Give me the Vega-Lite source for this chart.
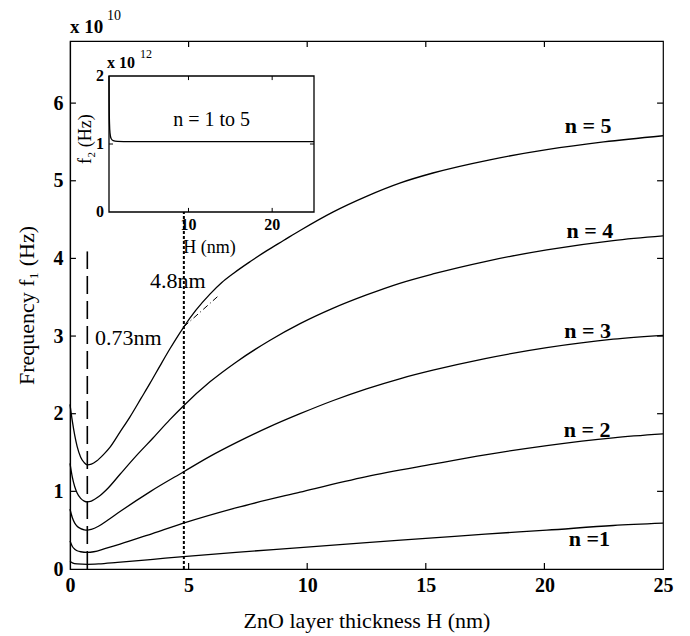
{
  "$schema": "https://vega.github.io/schema/vega-lite/v6.json",
  "width": 593,
  "height": 528,
  "autosize": "none",
  "padding": {"left": 70, "top": 41, "right": 27, "bottom": 67},
  "background": "white",
  "config": {
    "view": {"stroke": "black", "strokeWidth": 1.2},
    "font": "Liberation Serif",
    "axis": {
      "grid": false,
      "ticks": false,
      "domainColor": "black",
      "domainWidth": 1.2,
      "labelFont": "Liberation Serif",
      "labelFontSize": 20,
      "labelFontWeight": "bold",
      "labelColor": "black",
      "titleFont": "Liberation Serif",
      "titleFontSize": 22,
      "titleFontWeight": "normal",
      "titleColor": "black"
    }
  },
  "datasets": {
    "curves": [
      {"n": 5, "x": 0, "y": 2.12}, {"n": 5, "x": 0.1, "y": 1.9}, {"n": 5, "x": 0.2, "y": 1.72}, {"n": 5, "x": 0.3, "y": 1.58}, {"n": 5, "x": 0.45, "y": 1.44}, {"n": 5, "x": 0.6, "y": 1.37}, {"n": 5, "x": 0.73, "y": 1.34}, {"n": 5, "x": 0.9, "y": 1.35}, {"n": 5, "x": 1.12, "y": 1.39}, {"n": 5, "x": 1.4, "y": 1.47}, {"n": 5, "x": 1.69, "y": 1.57}, {"n": 5, "x": 2.1, "y": 1.76}, {"n": 5, "x": 2.53, "y": 1.96}, {"n": 5, "x": 3.0, "y": 2.2}, {"n": 5, "x": 3.37, "y": 2.39}, {"n": 5, "x": 3.8, "y": 2.62}, {"n": 5, "x": 4.22, "y": 2.84}, {"n": 5, "x": 4.78, "y": 3.11}, {"n": 5, "x": 5.3, "y": 3.33}, {"n": 5, "x": 5.9, "y": 3.54}, {"n": 5, "x": 6.4, "y": 3.69}, {"n": 5, "x": 6.9, "y": 3.81}, {"n": 5, "x": 7.6, "y": 3.96}, {"n": 5, "x": 8.3, "y": 4.1}, {"n": 5, "x": 9.0, "y": 4.23}, {"n": 5, "x": 9.7, "y": 4.36}, {"n": 5, "x": 11.1, "y": 4.6}, {"n": 5, "x": 12.5, "y": 4.8}, {"n": 5, "x": 13.9, "y": 4.97}, {"n": 5, "x": 15.3, "y": 5.1}, {"n": 5, "x": 17.7, "y": 5.27}, {"n": 5, "x": 20.1, "y": 5.4}, {"n": 5, "x": 22.5, "y": 5.5}, {"n": 5, "x": 25, "y": 5.58},
      {"n": 4, "x": 0, "y": 1.36}, {"n": 4, "x": 0.1, "y": 1.18}, {"n": 4, "x": 0.2, "y": 1.06}, {"n": 4, "x": 0.3, "y": 0.98}, {"n": 4, "x": 0.45, "y": 0.91}, {"n": 4, "x": 0.6, "y": 0.875}, {"n": 4, "x": 0.73, "y": 0.865}, {"n": 4, "x": 0.9, "y": 0.875}, {"n": 4, "x": 1.2, "y": 0.93}, {"n": 4, "x": 1.6, "y": 1.04}, {"n": 4, "x": 2.11, "y": 1.22}, {"n": 4, "x": 2.8, "y": 1.46}, {"n": 4, "x": 3.51, "y": 1.69}, {"n": 4, "x": 4.2, "y": 1.92}, {"n": 4, "x": 4.78, "y": 2.1}, {"n": 4, "x": 5.9, "y": 2.41}, {"n": 4, "x": 7.03, "y": 2.67}, {"n": 4, "x": 8.4, "y": 2.94}, {"n": 4, "x": 9.7, "y": 3.16}, {"n": 4, "x": 11.1, "y": 3.36}, {"n": 4, "x": 12.5, "y": 3.53}, {"n": 4, "x": 13.9, "y": 3.68}, {"n": 4, "x": 15.3, "y": 3.8}, {"n": 4, "x": 17.5, "y": 3.96}, {"n": 4, "x": 20.1, "y": 4.11}, {"n": 4, "x": 22.9, "y": 4.23}, {"n": 4, "x": 25, "y": 4.29},
      {"n": 3, "x": 0, "y": 0.77}, {"n": 3, "x": 0.1, "y": 0.66}, {"n": 3, "x": 0.2, "y": 0.59}, {"n": 3, "x": 0.3, "y": 0.55}, {"n": 3, "x": 0.45, "y": 0.52}, {"n": 3, "x": 0.6, "y": 0.505}, {"n": 3, "x": 0.73, "y": 0.5}, {"n": 3, "x": 0.9, "y": 0.51}, {"n": 3, "x": 1.2, "y": 0.55}, {"n": 3, "x": 1.6, "y": 0.63}, {"n": 3, "x": 2.11, "y": 0.74}, {"n": 3, "x": 3.4, "y": 1.0}, {"n": 3, "x": 4.78, "y": 1.25}, {"n": 3, "x": 5.9, "y": 1.45}, {"n": 3, "x": 7.03, "y": 1.63}, {"n": 3, "x": 8.4, "y": 1.83}, {"n": 3, "x": 9.7, "y": 2.0}, {"n": 3, "x": 11.1, "y": 2.17}, {"n": 3, "x": 12.5, "y": 2.32}, {"n": 3, "x": 13.9, "y": 2.45}, {"n": 3, "x": 15.3, "y": 2.56}, {"n": 3, "x": 17.5, "y": 2.71}, {"n": 3, "x": 20.1, "y": 2.85}, {"n": 3, "x": 22.9, "y": 2.96}, {"n": 3, "x": 25, "y": 3.01},
      {"n": 2, "x": 0, "y": 0.36}, {"n": 2, "x": 0.1, "y": 0.29}, {"n": 2, "x": 0.2, "y": 0.255}, {"n": 2, "x": 0.3, "y": 0.235}, {"n": 2, "x": 0.45, "y": 0.222}, {"n": 2, "x": 0.73, "y": 0.215}, {"n": 2, "x": 1.0, "y": 0.222}, {"n": 2, "x": 1.5, "y": 0.265}, {"n": 2, "x": 2.11, "y": 0.32}, {"n": 2, "x": 3.5, "y": 0.46}, {"n": 2, "x": 4.78, "y": 0.59}, {"n": 2, "x": 7.03, "y": 0.79}, {"n": 2, "x": 9.7, "y": 0.99}, {"n": 2, "x": 12.5, "y": 1.19}, {"n": 2, "x": 15.3, "y": 1.35}, {"n": 2, "x": 17.5, "y": 1.47}, {"n": 2, "x": 20.1, "y": 1.59}, {"n": 2, "x": 22.9, "y": 1.69}, {"n": 2, "x": 25, "y": 1.74},
      {"n": 1, "x": 0, "y": 0.1}, {"n": 1, "x": 0.1, "y": 0.08}, {"n": 1, "x": 0.3, "y": 0.066}, {"n": 1, "x": 0.73, "y": 0.06}, {"n": 1, "x": 1.2, "y": 0.065}, {"n": 1, "x": 2.0, "y": 0.085}, {"n": 1, "x": 3.5, "y": 0.125}, {"n": 1, "x": 4.78, "y": 0.16}, {"n": 1, "x": 7.0, "y": 0.215}, {"n": 1, "x": 9.7, "y": 0.275}, {"n": 1, "x": 12.5, "y": 0.34}, {"n": 1, "x": 15.3, "y": 0.4}, {"n": 1, "x": 17.5, "y": 0.45}, {"n": 1, "x": 20.1, "y": 0.5}, {"n": 1, "x": 22.9, "y": 0.56}, {"n": 1, "x": 25, "y": 0.59}
    ],
    "mainTicks": [
      {"x": 5, "x2": 5, "y": 0, "y2": 0.077}, {"x": 10, "x2": 10, "y": 0, "y2": 0.077}, {"x": 15, "x2": 15, "y": 0, "y2": 0.077}, {"x": 20, "x2": 20, "y": 0, "y2": 0.077},
      {"x": 5, "x2": 5, "y": 6.8, "y2": 6.723}, {"x": 10, "x2": 10, "y": 6.8, "y2": 6.723}, {"x": 15, "x2": 15, "y": 6.8, "y2": 6.723}, {"x": 20, "x2": 20, "y": 6.8, "y2": 6.723},
      {"x": 0, "x2": 0.25, "y": 1, "y2": 1}, {"x": 0, "x2": 0.25, "y": 2, "y2": 2}, {"x": 0, "x2": 0.25, "y": 3, "y2": 3}, {"x": 0, "x2": 0.25, "y": 4, "y2": 4}, {"x": 0, "x2": 0.25, "y": 5, "y2": 5}, {"x": 0, "x2": 0.25, "y": 6, "y2": 6},
      {"x": 25, "x2": 24.75, "y": 1, "y2": 1}, {"x": 25, "x2": 24.75, "y": 2, "y2": 2}, {"x": 25, "x2": 24.75, "y": 3, "y2": 3}, {"x": 25, "x2": 24.75, "y": 4, "y2": 4}, {"x": 25, "x2": 24.75, "y": 5, "y2": 5}, {"x": 25, "x2": 24.75, "y": 6, "y2": 6}
    ],
    "dashedLine": [{"x": 0.73, "y": 0, "y2": 4.09}],
    "dottedLine": [{"x": 4.8, "y": 0, "y2": 4.6}],
    "tangent": [{"x": 4.8, "y": 3.12}, {"x": 6.3, "y": 3.53}],
    "nLabels": [
      {"label": "n = 5", "x": 21.84, "y": 5.62},
      {"label": "n = 4", "x": 21.92, "y": 4.26},
      {"label": "n = 3", "x": 21.82, "y": 2.97},
      {"label": "n = 2", "x": 21.8, "y": 1.7},
      {"label": "n =1", "x": 21.9, "y": 0.29}
    ],
    "annots": [
      {"label": "0.73nm", "x": 1.05, "y": 2.885},
      {"label": "4.8nm", "x": 3.37, "y": 3.62}
    ],
    "mainExp": [{"label": "x 10", "x": 0, "y": 6.9}],
    "mainExpSup": [{"label": "10", "x": 1.56, "y": 7.07}],
    "insetBox": [{"x": 0.5, "x2": 25, "y": 0, "y2": 2}],
    "insetCurve": [
      {"x": 0.5, "y": 2.0}, {"x": 0.52, "y": 1.6}, {"x": 0.56, "y": 1.3}, {"x": 0.62, "y": 1.16}, {"x": 0.75, "y": 1.08}, {"x": 1.0, "y": 1.05}, {"x": 1.5, "y": 1.04}, {"x": 3, "y": 1.035}, {"x": 10, "y": 1.035}, {"x": 25, "y": 1.035}
    ],
    "insetTicks": [
      {"x": 10, "x2": 10, "y": 0, "y2": 0.06}, {"x": 20, "x2": 20, "y": 0, "y2": 0.06},
      {"x": 10, "x2": 10, "y": 2, "y2": 1.94}, {"x": 20, "x2": 20, "y": 2, "y2": 1.94},
      {"x": 0.5, "x2": 0.98, "y": 1, "y2": 1}, {"x": 25, "x2": 24.52, "y": 1, "y2": 1}
    ],
    "insetYLabels": [{"label": "0", "x": 0.5, "y": 0}, {"label": "1", "x": 0.5, "y": 1}, {"label": "2", "x": 0.5, "y": 2}],
    "insetXLabels": [{"label": "10", "x": 10, "y": 0}, {"label": "20", "x": 20, "y": 0}],
    "insetNote": [{"label": "n = 1 to 5", "x": 12.76, "y": 1.35}],
    "insetExp": [{"label": "x 10", "x": 0.26, "y": 2.12}],
    "insetExpSup": [{"label": "12", "x": 4.19, "y": 2.26}],
    "insetXTitle": [{"label": "H (nm)", "x": 12.5, "y": -0.53}],
    "insetYTitle": [{"label": "f₂ (Hz)", "x": -2.24, "y": 1.07}]
  },
  "layer": [
    {
      "layer": [
        {
          "data": {"name": "curves"},
          "mark": {"type": "line", "color": "black", "strokeWidth": 1.3, "interpolate": "monotone"},
          "encoding": {
            "x": {"field": "x", "type": "quantitative", "scale": {"domain": [0, 25], "nice": false, "zero": false},
              "axis": {"values": [0, 5, 10, 15, 20, 25], "format": "d", "title": "ZnO layer thickness H (nm)", "labelPadding": 6, "titlePadding": 15, "labelFlush": false}},
            "y": {"field": "y", "type": "quantitative", "scale": {"domain": [0, 6.8], "nice": false, "zero": false},
              "axis": {"values": [0, 1, 2, 3, 4, 5, 6], "format": "d", "title": "Frequency f₁ (Hz)", "labelPadding": 7, "titlePadding": 15, "labelFlush": false}},
            "detail": {"field": "n", "type": "nominal"}
          }
        },
        {
          "data": {"name": "mainTicks"},
          "mark": {"type": "rule", "color": "black", "strokeWidth": 1.2},
          "encoding": {
            "x": {"field": "x", "type": "quantitative", "scale": {"domain": [0, 25], "nice": false, "zero": false}},
            "x2": {"field": "x2"},
            "y": {"field": "y", "type": "quantitative", "scale": {"domain": [0, 6.8], "nice": false, "zero": false}},
            "y2": {"field": "y2"}
          }
        },
        {
          "data": {"name": "dashedLine"},
          "mark": {"type": "rule", "color": "black", "strokeWidth": 1.6, "strokeDash": [18, 7]},
          "encoding": {
            "x": {"field": "x", "type": "quantitative", "scale": {"domain": [0, 25], "nice": false, "zero": false}},
            "y": {"field": "y", "type": "quantitative", "scale": {"domain": [0, 6.8], "nice": false, "zero": false}},
            "y2": {"field": "y2"}
          }
        },
        {
          "data": {"name": "dottedLine"},
          "mark": {"type": "rule", "color": "black", "strokeWidth": 2, "strokeDash": [3, 2]},
          "encoding": {
            "x": {"field": "x", "type": "quantitative", "scale": {"domain": [0, 25], "nice": false, "zero": false}},
            "y": {"field": "y", "type": "quantitative", "scale": {"domain": [0, 6.8], "nice": false, "zero": false}},
            "y2": {"field": "y2"}
          }
        },
        {
          "data": {"name": "tangent"},
          "mark": {"type": "line", "color": "black", "strokeWidth": 1, "strokeDash": [6, 3, 1, 3]},
          "encoding": {
            "x": {"field": "x", "type": "quantitative", "scale": {"domain": [0, 25], "nice": false, "zero": false}},
            "y": {"field": "y", "type": "quantitative", "scale": {"domain": [0, 6.8], "nice": false, "zero": false}}
          }
        },
        {
          "data": {"name": "nLabels"},
          "mark": {"type": "text", "font": "Liberation Serif", "fontSize": 22, "fontWeight": "bold", "align": "center", "baseline": "alphabetic", "color": "black"},
          "encoding": {
            "x": {"field": "x", "type": "quantitative", "scale": {"domain": [0, 25], "nice": false, "zero": false}},
            "y": {"field": "y", "type": "quantitative", "scale": {"domain": [0, 6.8], "nice": false, "zero": false}},
            "text": {"field": "label"}
          }
        },
        {
          "data": {"name": "annots"},
          "mark": {"type": "text", "font": "Liberation Serif", "fontSize": 22, "align": "left", "baseline": "alphabetic", "color": "black"},
          "encoding": {
            "x": {"field": "x", "type": "quantitative", "scale": {"domain": [0, 25], "nice": false, "zero": false}},
            "y": {"field": "y", "type": "quantitative", "scale": {"domain": [0, 6.8], "nice": false, "zero": false}},
            "text": {"field": "label"}
          }
        },
        {
          "data": {"name": "mainExp"},
          "mark": {"type": "text", "font": "Liberation Serif", "fontSize": 19, "fontWeight": "bold", "align": "left", "baseline": "alphabetic", "color": "black"},
          "encoding": {
            "x": {"field": "x", "type": "quantitative", "scale": {"domain": [0, 25], "nice": false, "zero": false}},
            "y": {"field": "y", "type": "quantitative", "scale": {"domain": [0, 6.8], "nice": false, "zero": false}},
            "text": {"field": "label"}
          }
        },
        {
          "data": {"name": "mainExpSup"},
          "mark": {"type": "text", "font": "Liberation Serif", "fontSize": 14, "align": "left", "baseline": "alphabetic", "color": "black"},
          "encoding": {
            "x": {"field": "x", "type": "quantitative", "scale": {"domain": [0, 25], "nice": false, "zero": false}},
            "y": {"field": "y", "type": "quantitative", "scale": {"domain": [0, 6.8], "nice": false, "zero": false}},
            "text": {"field": "label"}
          }
        }
      ]
    },
    {
      "layer": [
        {
          "data": {"name": "insetBox"},
          "mark": {"type": "rect", "fill": "white", "stroke": "black", "strokeWidth": 1.3},
          "encoding": {
            "x": {"field": "x", "type": "quantitative", "scale": {"domain": [0.5, 25], "range": [39, 244], "nice": false, "zero": false}, "axis": null},
            "x2": {"field": "x2"},
            "y": {"field": "y", "type": "quantitative", "scale": {"domain": [0, 2], "range": [171, 35], "nice": false, "zero": false}, "axis": null},
            "y2": {"field": "y2"}
          }
        },
        {
          "data": {"name": "insetCurve"},
          "mark": {"type": "line", "color": "black", "strokeWidth": 1.3, "interpolate": "monotone"},
          "encoding": {
            "x": {"field": "x", "type": "quantitative", "scale": {"domain": [0.5, 25], "range": [39, 244], "nice": false, "zero": false}, "axis": null},
            "y": {"field": "y", "type": "quantitative", "scale": {"domain": [0, 2], "range": [171, 35], "nice": false, "zero": false}, "axis": null}
          }
        },
        {
          "data": {"name": "insetTicks"},
          "mark": {"type": "rule", "color": "black", "strokeWidth": 1},
          "encoding": {
            "x": {"field": "x", "type": "quantitative", "scale": {"domain": [0.5, 25], "range": [39, 244], "nice": false, "zero": false}, "axis": null},
            "x2": {"field": "x2"},
            "y": {"field": "y", "type": "quantitative", "scale": {"domain": [0, 2], "range": [171, 35], "nice": false, "zero": false}, "axis": null},
            "y2": {"field": "y2"}
          }
        },
        {
          "data": {"name": "insetYLabels"},
          "mark": {"type": "text", "font": "Liberation Serif", "fontSize": 16, "fontWeight": "bold", "align": "right", "baseline": "middle", "dx": -5, "color": "black"},
          "encoding": {
            "x": {"field": "x", "type": "quantitative", "scale": {"domain": [0.5, 25], "range": [39, 244], "nice": false, "zero": false}, "axis": null},
            "y": {"field": "y", "type": "quantitative", "scale": {"domain": [0, 2], "range": [171, 35], "nice": false, "zero": false}, "axis": null},
            "text": {"field": "label"}
          }
        },
        {
          "data": {"name": "insetXLabels"},
          "mark": {"type": "text", "font": "Liberation Serif", "fontSize": 16, "fontWeight": "bold", "align": "center", "baseline": "top", "dy": 5, "color": "black"},
          "encoding": {
            "x": {"field": "x", "type": "quantitative", "scale": {"domain": [0.5, 25], "range": [39, 244], "nice": false, "zero": false}, "axis": null},
            "y": {"field": "y", "type": "quantitative", "scale": {"domain": [0, 2], "range": [171, 35], "nice": false, "zero": false}, "axis": null},
            "text": {"field": "label"}
          }
        },
        {
          "data": {"name": "insetNote"},
          "mark": {"type": "text", "font": "Liberation Serif", "fontSize": 20, "align": "center", "baseline": "middle", "color": "black"},
          "encoding": {
            "x": {"field": "x", "type": "quantitative", "scale": {"domain": [0.5, 25], "range": [39, 244], "nice": false, "zero": false}, "axis": null},
            "y": {"field": "y", "type": "quantitative", "scale": {"domain": [0, 2], "range": [171, 35], "nice": false, "zero": false}, "axis": null},
            "text": {"field": "label"}
          }
        },
        {
          "data": {"name": "insetExp"},
          "mark": {"type": "text", "font": "Liberation Serif", "fontSize": 16, "fontWeight": "bold", "align": "left", "baseline": "alphabetic", "color": "black"},
          "encoding": {
            "x": {"field": "x", "type": "quantitative", "scale": {"domain": [0.5, 25], "range": [39, 244], "nice": false, "zero": false}, "axis": null},
            "y": {"field": "y", "type": "quantitative", "scale": {"domain": [0, 2], "range": [171, 35], "nice": false, "zero": false}, "axis": null},
            "text": {"field": "label"}
          }
        },
        {
          "data": {"name": "insetExpSup"},
          "mark": {"type": "text", "font": "Liberation Serif", "fontSize": 12, "align": "left", "baseline": "alphabetic", "color": "black"},
          "encoding": {
            "x": {"field": "x", "type": "quantitative", "scale": {"domain": [0.5, 25], "range": [39, 244], "nice": false, "zero": false}, "axis": null},
            "y": {"field": "y", "type": "quantitative", "scale": {"domain": [0, 2], "range": [171, 35], "nice": false, "zero": false}, "axis": null},
            "text": {"field": "label"}
          }
        },
        {
          "data": {"name": "insetXTitle"},
          "mark": {"type": "text", "font": "Liberation Serif", "fontSize": 18, "align": "center", "baseline": "middle", "color": "black"},
          "encoding": {
            "x": {"field": "x", "type": "quantitative", "scale": {"domain": [0.5, 25], "range": [39, 244], "nice": false, "zero": false}, "axis": null},
            "y": {"field": "y", "type": "quantitative", "scale": {"domain": [0, 2], "range": [171, 35], "nice": false, "zero": false}, "axis": null},
            "text": {"field": "label"}
          }
        },
        {
          "data": {"name": "insetYTitle"},
          "mark": {"type": "text", "font": "Liberation Serif", "fontSize": 18, "align": "center", "baseline": "middle", "angle": 270, "color": "black"},
          "encoding": {
            "x": {"field": "x", "type": "quantitative", "scale": {"domain": [0.5, 25], "range": [39, 244], "nice": false, "zero": false}, "axis": null},
            "y": {"field": "y", "type": "quantitative", "scale": {"domain": [0, 2], "range": [171, 35], "nice": false, "zero": false}, "axis": null},
            "text": {"field": "label"}
          }
        }
      ]
    }
  ],
  "resolve": {"scale": {"x": "independent", "y": "independent"}, "axis": {"x": "independent", "y": "independent"}}
}
